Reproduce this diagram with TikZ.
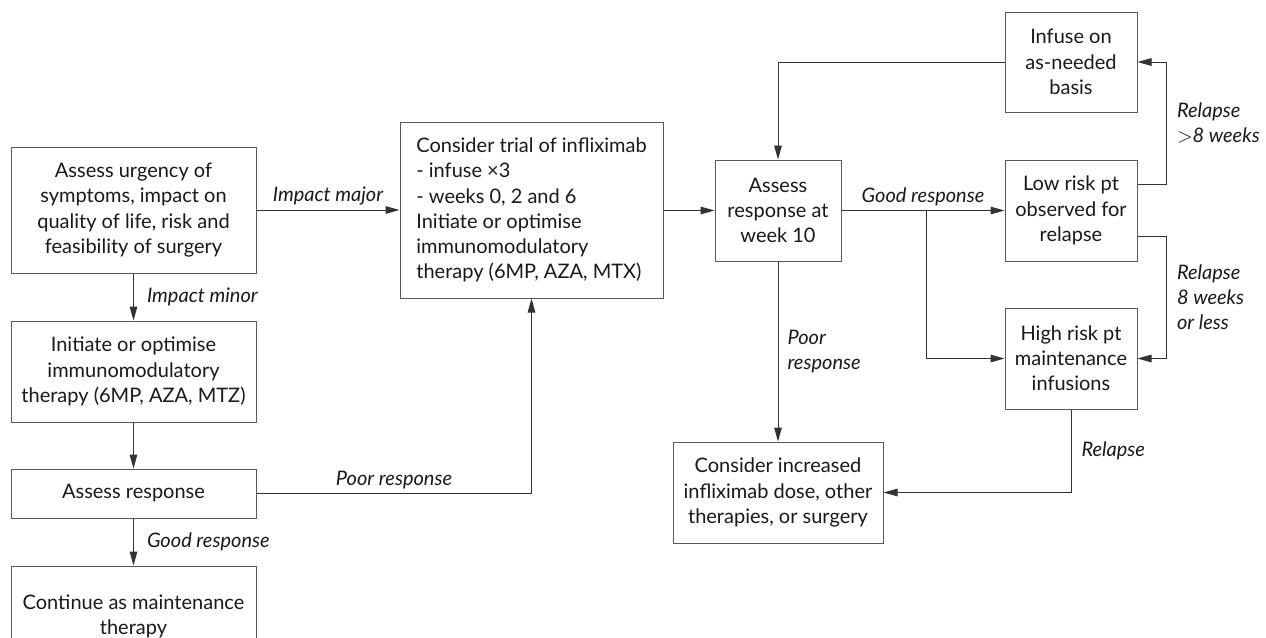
\documentclass[tikz,border=0pt]{standalone}
\usepackage{fontspec}
\setmainfont{Lato}
\usetikzlibrary{arrows.meta}

\tikzset{
  every picture/.style={line width=0.5pt},
  flow/.style={draw=black!80,-{Triangle[length=7pt,width=3.8pt]}},
  link/.style={draw=black!80},
}

\begin{document}
\begin{tikzpicture}[x=0.5pt, y=-0.5pt]
        \tikzstyle{box}=[draw=black!65,fill=white,align=center,inner sep=2pt,font=\fontsize{10}{12.6}\selectfont,text=black!90]
        \tikzstyle{lbl}=[font=\fontsize{10}{12.6}\selectfont\itshape,text=black!90,inner sep=2pt]

        \useasboundingbox (0,0) rectangle (1266,638);

        % left column
        \node[box,minimum width=122.5pt,minimum height=63pt] (urgency) at (133.5,210) {Assess urgency of\\symptoms, impact on\\quality of life, risk and\\feasibility of surgery};
        \node[box,minimum width=122.5pt,minimum height=50.5pt] (immuno) at (133.5,371.5) {Initiate or optimise\\immunomodulatory\\therapy (6MP, AZA, MTZ)};
        \node[box,minimum width=122.5pt,minimum height=24.5pt] (assess) at (133.5,493.5) {Assess response};
        \node[box,minimum width=122.5pt,minimum height=50pt] (continue) at (133.5,616) {Continue as maintenance\\therapy};

        % infliximab trial
        \node[box,align=left,minimum width=131.5pt,minimum height=88pt] (trial) at (531.5,210) {Consider trial of infliximab\\- infuse ×3\\- weeks 0, 2 and 6\\Initiate or optimise\\immunomodulatory\\therapy (6MP, AZA, MTX)};

        % right part
        \node[box,minimum width=63pt,minimum height=50.5pt] (week) at (778,210.5) {Assess\\response at\\week 10};
        \node[box,minimum width=66pt,minimum height=50pt] (infuse) at (1071,62) {Infuse on\\as-needed\\basis};
        \node[box,minimum width=66pt,minimum height=50.5pt] (lowrisk) at (1071,210.5) {Low risk pt\\observed for\\relapse};
        \node[box,minimum width=66pt,minimum height=50.5pt] (highrisk) at (1071,358.5) {High risk pt\\maintenance\\infusions};
        \node[box,minimum width=105pt,minimum height=50.5pt] (increase) at (778,492.5) {Consider increased\\infliximab dose, other\\therapies, or surgery};

        \coordinate (branch) at (926,210);

        \draw[flow] (urgency) -- (trial) node[lbl,midway,above] {Impact major};
        \draw[flow] (urgency) -- (immuno) node[lbl,midway,right,xshift=4.5pt] {Impact minor};
        \draw[flow] (immuno) -- (assess);
        \draw[flow] (assess) -- (continue) node[lbl,midway,right,xshift=4.5pt] {Good response};
        \draw[flow] (assess.east) -| node[lbl,pos=0.25,above] {Poor response} (trial.south);
        \draw[flow] (trial.east |- week.west) -- (week.west);
        \draw[flow] (week.east) -- (lowrisk.west) node[lbl,midway,above] {Good response};
        \draw[flow] (branch) |- (highrisk.west);
        \draw[flow] (week) -- (increase) node[lbl,midway,right,align=left,xshift=2.5pt] {Poor\\response};
        \draw[flow] (infuse.west) -| (week.north);
        \draw[flow] ([yshift=13pt]lowrisk.east) -- ++(29,0) |- node[lbl,pos=0.25,right,align=left,xshift=3pt] {Relapse\\$>$8 weeks} (infuse.east);
        \draw[flow] ([yshift=-13pt]lowrisk.east) -- ++(29,0) |- node[lbl,pos=0.25,right,align=left,xshift=3pt] {Relapse\\8 weeks\\or less} (highrisk.east);
        \draw[flow] (highrisk.south) |- node[lbl,pos=0.25,right,xshift=3pt] {Relapse} (increase.east);
    \end{tikzpicture}
\end{document}
